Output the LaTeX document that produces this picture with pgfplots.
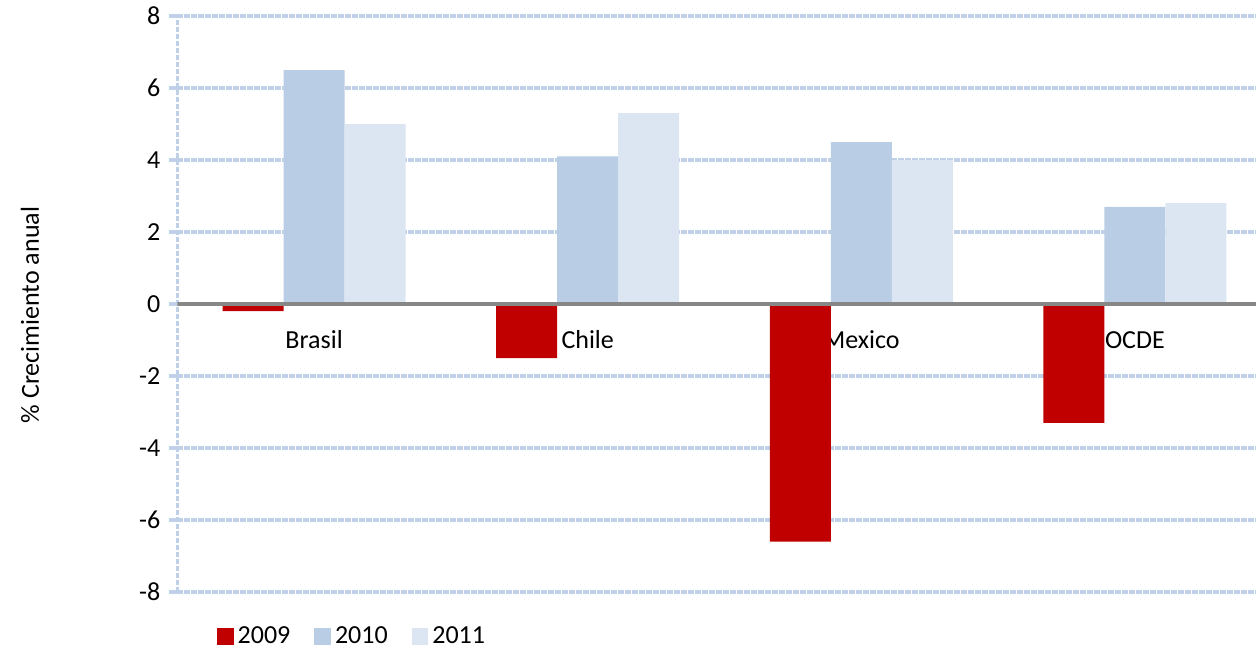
\documentclass[border=0pt]{standalone}
\usepackage{pgfplots}
\pgfplotsset{compat=1.18}
\usepackage{fontspec}
\setmainfont{Carlito}

\definecolor{rojo}{HTML}{C00000}
\definecolor{azul}{HTML}{B9CDE5}
\definecolor{azulclaro}{HTML}{DCE6F2}
\definecolor{rejilla}{HTML}{BFD0E7}
\definecolor{cero}{HTML}{878787}

% etiquetas encima de las barras
\pgfplotsset{
  layers/etiquetas/.define layer set={
    axis background,axis grid,axis ticks,axis lines,main,
    axis tick labels,axis descriptions,axis foreground}{},
}

\begin{document}
\fontsize{13}{15}\selectfont
\begin{tikzpicture}
\begin{axis}[
    set layers=etiquetas,
    width=547.2pt, height=288pt, scale only axis,
    xmin=-0.5, xmax=3.5, ymin=-8, ymax=8,
    axis x line*=bottom, axis y line*=left,
    axis line style={rejilla, line width=1.6pt, dash pattern=on 2.6pt off 0.9pt, -},
    ytick={-8,-6,...,8},
    ymajorgrids,
    major grid style={rejilla, line width=1.6pt, dash pattern=on 2.6pt off 0.9pt},
    tick align=outside, major tick length=4pt,
    ytick style={rejilla, line width=1.6pt},
    /pgf/number format/assume math mode=true,
    yticklabel style={font=\fontsize{13}{15}\selectfont},
    xtick={0,1,2,3},
    xticklabels={Brasil,Chile,Mexico,OCDE},
    xtick style={draw=none},
    xticklabel style={anchor=center, yshift=130pt},
    ylabel={\% Crecimiento anual},
    ylabel style={at={(axis description cs:-0.1347,0.481)}, anchor=center},
    legend columns=3,
    legend style={at={(axis description cs:0.036,-0.078)}, anchor=west,
        draw=none, fill=none, inner sep=0pt,
        /tikz/every even column/.append style={column sep=10pt}},
    legend image code/.code={\fill[#1] (0pt,-4.25pt) rectangle (8.3pt,4.25pt);},
    legend cell align=left,
]
\addplot[ybar, bar width=0.223, bar shift=-0.223, fill=rojo, draw=none]
    coordinates {(0,-0.2) (1,-1.5) (2,-6.6) (3,-3.3)};
\addlegendentry{2009}
\addplot[ybar, bar width=0.223, bar shift=0, fill=azul, draw=none]
    coordinates {(0,6.5) (1,4.1) (2,4.5) (3,2.7)};
\addlegendentry{2010}
\addplot[ybar, bar width=0.223, bar shift=0.223, fill=azulclaro, draw=none]
    coordinates {(0,5.0) (1,5.3) (2,4.0) (3,2.8)};
\addlegendentry{2011}

% linea del cero
\draw[cero, line width=1.6pt] (axis cs:-0.5,0) -- (axis cs:3.5,0);
\coordinate (o) at (rel axis cs:0,0);
\end{axis}
\pgfresetboundingbox
\path ([shift={(-88.65pt,296pt)}]o) rectangle ([shift={(539.35pt,-30pt)}]o);
\end{tikzpicture}
\end{document}
